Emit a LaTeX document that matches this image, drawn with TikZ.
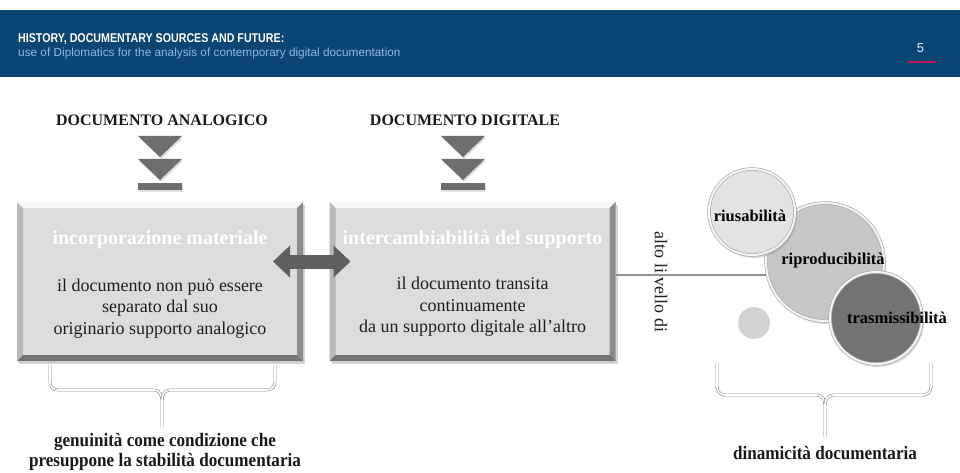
\documentclass[tikz,border=0pt]{standalone}
\usepackage{fontspec}
\setmainfont{Liberation Serif}
\setsansfont{Liberation Sans}
\newfontfamily\hdrfont[FakeStretch=0.84]{Liberation Sans}
\newfontfamily\narrowserif[FakeStretch=0.9]{Liberation Serif}
\usepackage{tikz}
\usetikzlibrary{arrows.meta,positioning,calc,shadows}

\definecolor{hdrblue}{HTML}{0B4574}
\definecolor{hdrsubblue}{HTML}{8DB9E0}
\definecolor{hdrred}{HTML}{C0175D}
\definecolor{panelgray}{HTML}{DCDCDC}
\definecolor{chevgray}{HTML}{6E6E6E}
\definecolor{arrowgray}{HTML}{5F5F5F}
\definecolor{bracegray}{HTML}{8C8C8C}

\begin{document}
\begin{tikzpicture}[
    x=1pt, y=-1pt,
    hdrtitle/.style={font=\hdrfont\bfseries\fontsize{12.7}{14}\selectfont, text=white, inner sep=0},
    hdrsub/.style={font=\sffamily\fontsize{11.8}{14}\selectfont, text=hdrsubblue, inner sep=0},
    heading/.style={font=\bfseries\fontsize{16}{19}\selectfont, text=black!90},
    panel/.style={rectangle, fill=panelgray, inner sep=0, outer sep=0, minimum width=286, minimum height=159,
        drop shadow={opacity=0.35, shadow xshift=2pt, shadow yshift=-3pt}},
    paneltitle/.style={font=\bfseries\fontsize{20}{23}\selectfont, text=white},
    paneltext/.style={font=\fontsize{18}{21.5}\selectfont, text=black!88, align=center},
    chev/.style={fill=chevgray, drop shadow={opacity=0.25, shadow xshift=1pt, shadow yshift=-2pt}},
    dblarrow/.style={draw=arrowgray, line width=14pt, {Triangle[width=31pt,length=17pt]}-{Triangle[width=31pt,length=17pt]}},
    lvlline/.style={draw=gray!85, line width=1.6pt},
    orb/.style={circle, inner sep=0, draw=gray!65, line width=0.7pt, double=white!92!gray, double distance=2pt,
        drop shadow={opacity=0.3, shadow xshift=2pt, shadow yshift=-3pt}},
    orbtext/.style={font=\bfseries\fontsize{16.5}{19}\selectfont, text=black},
    brace/.style={draw=bracegray, line width=0.6pt, double=white, double distance=1.6pt},
    bracetext/.style={font=\narrowserif\bfseries\fontsize{19}{20.5}\selectfont, text=black!90, align=center}
]
    \useasboundingbox (0,0) rectangle (960,473);

    % Header
    \fill[hdrblue] (0,10) rectangle (960,77);
    \node[hdrtitle, anchor=base west] (htitle) at (18,43) {HISTORY, DOCUMENTARY SOURCES AND FUTURE:};
    \node[hdrsub, anchor=base west] (hsub) at (18,57) {use of Diplomatics for the analysis of contemporary digital documentation};
    \node[font=\sffamily\fontsize{13}{15}\selectfont, text=white!70!hdrsubblue] (pnum) at (920.5,48) {5};
    \draw[hdrred, line width=2.4pt] (908,62) -- (936,62);

    % Headings and chevrons
    \node[heading] (anlH) at (162,120) {DOCUMENTO ANALOGICO};
    \node[heading] (digH) at (465,120) {DOCUMENTO DIGITALE};
    \foreach \cx in {160,463}{
        \fill[chev] (\cx-22,136) -- (\cx+22,136) -- (\cx,157) -- cycle;
        \fill[chev] (\cx-22,159) -- (\cx+22,159) -- (\cx,180) -- cycle;
        \fill[chev] (\cx-22,183) rectangle (\cx+22,190);
    }

    % Panels
    \node[panel] (anl) at (160,281.5) {};
    \node[panel] (dig) at (472.5,281.5) {};
    \foreach \b in {anl,dig}{
        \fill[white!94!gray] (\b.north west) -- (\b.north east) -- ([shift={(-6pt,-6pt)}]\b.north east) -- ([shift={(6pt,-6pt)}]\b.north west) -- cycle;
        \fill[gray!55] (\b.north west) -- ([shift={(6pt,-6pt)}]\b.north west) -- ([shift={(6pt,6pt)}]\b.south west) -- (\b.south west) -- cycle;
        \fill[gray!90] (\b.north east) -- ([shift={(-6pt,-6pt)}]\b.north east) -- ([shift={(-6pt,6pt)}]\b.south east) -- (\b.south east) -- cycle;
        \fill[black!55] (\b.south west) -- ([shift={(6pt,6pt)}]\b.south west) -- ([shift={(-6pt,6pt)}]\b.south east) -- (\b.south east) -- cycle;
    }
    \node[paneltitle] (anlT) at ($(anl.north)+(0,38)$) {incorporazione materiale};
    \node[paneltext] (anlB) at ($(anl.north)+(0,106.5)$) {il documento non può essere\\separato dal suo\\originario supporto analogico};
    \node[paneltitle] (digT) at ($(dig.north)+(0,38)$) {intercambiabilità del supporto};
    \node[paneltext] (digB) at ($(dig.north)+(0,105)$) {il documento transita\\continuamente\\da un supporto digitale all’altro};

    % Arrow between panels
    \draw[dblarrow, shorten <=-30pt, shorten >=-21pt] ([yshift=20pt]anl.east) -- ([yshift=20pt]dig.west);

    % Level line and label
    \coordinate (lvl) at (800,275);
    \draw[lvlline] (dig.east |- lvl) -- (lvl);
    \node[paneltext, rotate=-90] (lvlT) at (661,282) {alto li vello di};

    % Circles
    \node[orb, fill=gray!45, minimum size=118] (ripro) at (825,262) {};
    \node[orb, fill=gray!22, minimum size=86] (riuso) at (752,212) {};
    \node[orb, fill=black!55, minimum size=92] (trasm) at (876,318) {};
    \node[circle, fill=gray!35, minimum size=32, inner sep=0] (dot) at (754,323) {};
    \node[orbtext] (riusoL) at (750,216) {riusabilità};
    \node[orbtext] (riproL) at (833,261) {riproducibilità};
    \node[orbtext] (trasmL) at (897,318) {trasmissibilità};

    % Braces
    \draw[brace] (50,365) -- (50,382) to[out=-90,in=180] (58,390) -- (154,390) to[out=0,in=90] (162,400) -- (162,427);
    \draw[brace] (275,365) -- (275,382) to[out=-90,in=0] (267,390) -- (170,390) to[out=180,in=90] (162,400);
    \draw[brace] (717,363) -- (717,387) to[out=-90,in=180] (725,395) -- (817,395) to[out=0,in=90] (825,405) -- (825,437);
    \draw[brace] (931,363) -- (931,387) to[out=-90,in=0] (923,395) -- (833,395) to[out=180,in=90] (825,405);
    \node[bracetext] (anlL) at (165,452) {genuinità come condizione che\\presuppone la stabilità documentaria};
    \node[bracetext] (digL) at (825,453) {dinamicità documentaria};
\end{tikzpicture}
\end{document}
